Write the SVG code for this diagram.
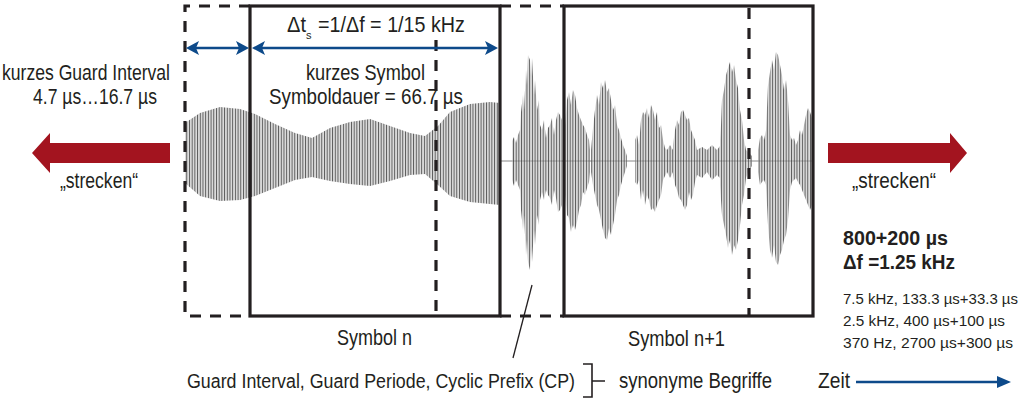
<svg xmlns="http://www.w3.org/2000/svg" width="1024" height="400" viewBox="0 0 1024 400">
<style>
.t{font-family:"Liberation Sans Narrow","Liberation Sans",Arial,sans-serif;fill:#231f20;font-size:22px}
.s{font-size:15px}
.b{font-weight:bold;font-size:21px}
.box{fill:none;stroke:#231f20;stroke-width:3.2}
.dash{fill:none;stroke:#231f20;stroke-width:3.2;stroke-dasharray:11,9}
.wave{fill:url(#stripes)}
.blue{stroke:#0d4a8a;stroke-width:2.5;fill:none}
.bluehead{fill:#0d4a8a}
.red{fill:#a3141f}
</style>
<defs>
<pattern id="stripes" patternUnits="userSpaceOnUse" x="0" y="0" width="2.7" height="8">
<rect x="0" y="0" width="0.8" height="8" fill="#444"/>
<rect x="1.3" y="0" width="0.9" height="8" fill="#b2b2b2"/>
</pattern>
</defs>
<rect width="1024" height="400" fill="#fff"/>

<g id="waveform">
<line x1="500" y1="161" x2="813" y2="161" stroke="#888" stroke-width="1"/>
<path class="wave" d="M185,123 L200,113 L220,107 L240,109 L255,114 L275,124 L295,133 L312,138 L330,128 L350,122 L370,119 L390,126 L410,133 L425,136 L438,126 L450,112 L470,104 L490,102 L500,103 L500,205 L490,204 L470,202 L450,196 L438,185 L425,174 L410,175 L390,181 L370,186 L350,184 L330,181 L312,177 L295,180 L275,188 L255,196 L240,200 L220,201 L200,196 L185,183 Z"/>
<path class="wave" d="M512,141 L514,137 L516,143 L518,135 L520,130 L521,112 L523,95 L524,110 L526,70 L527,85 L528,55 L530,60 L531,75 L532,58 L534,95 L535,80 L537,110 L539,100 L540,125 L542,130 L544,120 L546,138 L548,128 L550,125 L552,118 L554,135 L556,120 L558,112 L560,115 L562,120 L562,205 L560,210 L558,212 L556,198 L554,190 L552,205 L550,198 L548,195 L546,190 L544,200 L542,192 L540,200 L539,225 L537,215 L535,245 L534,230 L532,262 L531,250 L530,270 L528,262 L527,240 L526,255 L524,215 L523,230 L521,210 L520,190 L518,185 L516,180 L514,186 L512,180 Z"/>
<path class="wave" d="M565,125 L567,100 L569,92 L571,105 L573,90 L575,95 L577,108 L579,115 L581,120 L583,125 L585,128 L587,135 L589,140 L590,150 L590,172 L589,182 L587,188 L585,195 L583,192 L581,205 L579,210 L577,222 L575,230 L573,225 L571,232 L569,218 L567,215 L565,195 Z"/>
<path class="wave" d="M591,150 L593,128 L595,110 L597,95 L599,105 L601,82 L603,88 L605,80 L607,92 L609,88 L611,100 L613,110 L615,105 L617,125 L619,130 L621,138 L623,145 L625,150 L627,156 L627,166 L625,172 L623,178 L621,185 L619,195 L617,200 L615,215 L613,225 L611,235 L609,228 L607,240 L605,238 L603,230 L601,220 L599,210 L597,205 L595,195 L593,185 L591,172 Z"/>
<path class="wave" d="M635,140 L637,135 L639,145 L641,120 L643,112 L645,115 L647,108 L649,118 L651,105 L653,110 L655,120 L657,112 L659,128 L661,125 L663,140 L665,148 L667,150 L670,145 L673,150 L673,172 L670,178 L667,172 L665,176 L663,180 L661,195 L659,200 L657,205 L655,212 L653,208 L651,210 L649,200 L647,195 L645,205 L643,190 L641,200 L639,180 L637,185 L635,182 Z"/>
<path class="wave" d="M673,145 L675,130 L677,120 L679,125 L681,112 L683,110 L685,115 L687,120 L689,118 L691,130 L693,135 L695,140 L697,150 L702,147 L707,150 L712,145 L717,150 L720,146 L720,178 L717,175 L712,180 L707,172 L702,178 L697,175 L695,182 L693,195 L691,200 L689,192 L687,205 L685,210 L683,205 L681,200 L679,198 L677,190 L675,185 L673,175 Z"/>
<path class="wave" d="M720,140 L721,125 L722,100 L724,90 L726,75 L728,68 L730,62 L732,72 L734,65 L736,80 L738,88 L740,110 L742,120 L744,140 L746,150 L748,152 L752,156 L752,166 L748,172 L746,178 L744,195 L742,205 L740,225 L738,240 L736,250 L734,245 L732,255 L730,240 L728,248 L726,235 L724,225 L722,215 L721,200 L720,185 Z"/>
<path class="wave" d="M758,150 L760,138 L762,135 L764,140 L766,130 L768,85 L770,72 L772,60 L774,70 L776,52 L778,55 L780,65 L782,75 L784,90 L786,80 L788,100 L790,135 L792,140 L794,138 L796,145 L798,140 L800,130 L802,135 L804,125 L806,115 L808,108 L810,112 L812,118 L812,205 L810,210 L808,205 L806,200 L804,195 L802,190 L800,185 L798,182 L796,178 L794,180 L792,182 L790,190 L788,220 L786,235 L784,240 L782,250 L780,255 L778,265 L776,262 L774,245 L772,258 L770,250 L768,225 L766,185 L764,180 L762,182 L760,185 L758,172 Z"/>
</g>

<g id="guard-n">
<path class="dash" d="M250,6 H185 V316 H250"/>
</g>
<g id="symbol-n">
<rect class="box" x="250" y="6" width="250" height="310"/>
<line class="dash" x1="436" y1="40" x2="436" y2="316"/>
<text class="t" x="337" y="345" textLength="75" lengthAdjust="spacingAndGlyphs">Symbol n</text>
</g>
<g id="guard-n1">
<path class="dash" d="M500,6 H564 M500,316 H564"/>
</g>
<g id="symbol-n1">
<rect class="box" x="564" y="6" width="249" height="310"/>
<line class="dash" x1="749" y1="8" x2="749" y2="316"/>
<text class="t" x="628" y="346" textLength="97" lengthAdjust="spacingAndGlyphs">Symbol n+1</text>
</g>

<g id="labels">
<text class="t" x="287" y="32" textLength="19" lengthAdjust="spacingAndGlyphs">Δt</text>
<text class="t" x="306" y="39" style="font-size:11px">s</text>
<text class="t" x="318" y="32" textLength="147" lengthAdjust="spacingAndGlyphs">=1/Δf = 1/15 kHz</text>
<text class="t" x="306" y="80" textLength="119" lengthAdjust="spacingAndGlyphs">kurzes Symbol</text>
<text class="t" x="269" y="104" textLength="194" lengthAdjust="spacingAndGlyphs">Symboldauer = 66.7 µs</text>
<text class="t" x="2" y="80" textLength="168" lengthAdjust="spacingAndGlyphs">kurzes Guard Interval</text>
<text class="t" x="33" y="104" textLength="124" lengthAdjust="spacingAndGlyphs">4.7 µs…16.7 µs</text>
<text class="t" x="60" y="188" textLength="78" lengthAdjust="spacingAndGlyphs">„strecken“</text>
<text class="t" x="852" y="188" textLength="84" lengthAdjust="spacingAndGlyphs">„strecken“</text>
<text class="t b" x="843" y="245" textLength="105" lengthAdjust="spacingAndGlyphs">800+200 µs</text>
<text class="t b" x="843" y="269" textLength="112" lengthAdjust="spacingAndGlyphs">Δf =1.25 kHz</text>
<text class="t s" x="843" y="304" textLength="175" lengthAdjust="spacingAndGlyphs">7.5 kHz, 133.3 µs+33.3 µs</text>
<text class="t s" x="843" y="326" textLength="162" lengthAdjust="spacingAndGlyphs">2.5 kHz, 400 µs+100 µs</text>
<text class="t s" x="843" y="348" textLength="170" lengthAdjust="spacingAndGlyphs">370 Hz, 2700 µs+300 µs</text>
<text class="t" x="187" y="388" style="font-size:19.5px" textLength="388" lengthAdjust="spacingAndGlyphs">Guard Interval, Guard Periode, Cyclic Prefix (CP)</text>
<text class="t" x="619" y="388" textLength="153" lengthAdjust="spacingAndGlyphs">synonyme Begriffe</text>
<text class="t" x="818" y="388" textLength="32" lengthAdjust="spacingAndGlyphs">Zeit</text>
</g>

<g id="connectors">
<line class="blue" x1="195" y1="48" x2="240" y2="48"/>
<polygon class="bluehead" points="186,48 199,41 196,48 199,55"/>
<polygon class="bluehead" points="249,48 236,41 239,48 236,55"/>
<line class="blue" x1="260" y1="48" x2="490" y2="48"/>
<polygon class="bluehead" points="252,48 265,41 262,48 265,55"/>
<polygon class="bluehead" points="498,48 485,41 488,48 485,55"/>
<polygon class="red" points="170,143 50,143 50,133 32,153 50,173 50,163 170,163"/>
<polygon class="red" points="828,143 950,143 950,133 967,153 950,173 950,163 828,163"/>
<line x1="513" y1="358" x2="532" y2="285" stroke="#231f20" stroke-width="1.3"/>
<path d="M583,364 H592 V397 H583 M592,381 H605" fill="none" stroke="#231f20" stroke-width="1.6"/>
<line class="blue" x1="856" y1="382" x2="1000" y2="382"/>
<polygon class="bluehead" points="1011,382 997,376 997,388"/>
</g>
</svg>
